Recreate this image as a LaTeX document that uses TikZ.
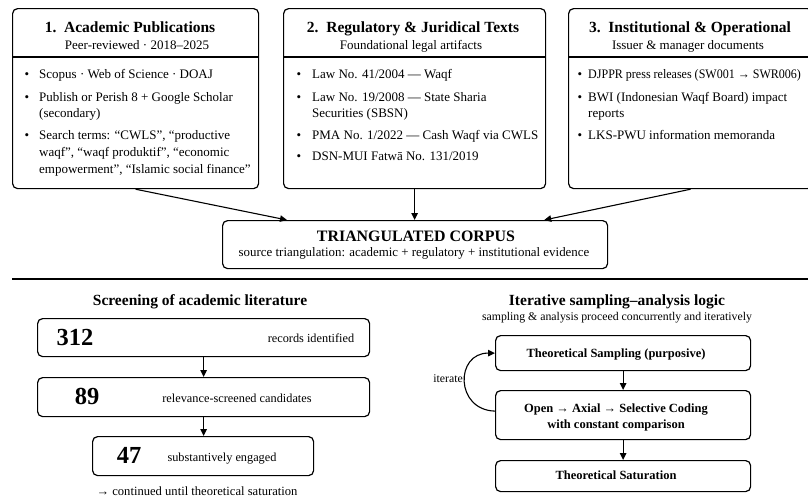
\documentclass[tikz,border=0pt]{standalone}
\usepackage{fontspec}
\setmainfont{Liberation Serif}
\usetikzlibrary{arrows.meta}
\begin{document}
\begin{tikzpicture}[x=1pt,y=-1pt,
  box/.style={draw, line width=1.2pt, rounded corners=5pt, inner sep=0pt},
  arr/.style={line width=1.1pt, -{Stealth[length=7pt,width=6.5pt,inset=0pt]}},
  ttl/.style={font=\fontsize{15.5}{18}\selectfont\bfseries, anchor=base, inner sep=0pt},
  sub/.style={font=\fontsize{13}{16}\selectfont, anchor=base, inner sep=0pt},
  itm/.style={font=\fontsize{13}{16}\selectfont, anchor=base west, inner sep=0pt},
  bul/.style={font=\fontsize{13}{16}\selectfont, anchor=base, inner sep=0pt},
  num/.style={font=\fontsize{24.5}{28}\selectfont\bfseries, anchor=base, inner sep=0pt},
  lab/.style={font=\fontsize{12.3}{15}\selectfont, anchor=base, inner sep=0pt},
  sml/.style={font=\fontsize{11.8}{14}\selectfont, anchor=base, inner sep=0pt},
  bld/.style={font=\fontsize{12.5}{15}\selectfont\bfseries, anchor=base, inner sep=0pt}]
\useasboundingbox (0,0) rectangle (808,499);
\fill[white] (0,0) rectangle (808,499);

% ---- top boxes ----
\node[box, minimum width=246pt, minimum height=180pt, anchor=north west] (b1) at (12,8) {};
\node[box, minimum width=262pt, minimum height=180pt, anchor=north west] (b2) at (283,8) {};
\node[box, minimum width=244pt, minimum height=180pt, anchor=north west] (b3) at (568,8) {};
\draw[line width=1.2pt] (12,57) -- (258,57);
\draw[line width=1.2pt] (283,57) -- (545,57);
\draw[line width=1.2pt] (568,57) -- (812,57);

\node[ttl] (h1) at (130,32) {1.\enspace Academic Publications};
\node[sub] (s1t) at (137,49) {Peer-reviewed · 2018–2025};
\node[ttl] (h2) at (413,32) {2.\enspace Regulatory \& Juridical Texts};
\node[sub] (s2t) at (411,49) {Foundational legal artifacts};
\node[ttl] (h3) at (690,32) {3.\enspace Institutional \& Operational};
\node[sub] (s3t) at (688,49) {Issuer \& manager documents};

% box 1 items
\node[bul] (p11) at (27,78) {•};
\node[itm] (i11) at (39,78) {Scopus · Web of Science · DOAJ};
\node[bul] (p12) at (27,101) {•};
\node[itm] (i12) at (39,101) {Publish or Perish 8 + Google Scholar};
\node[itm] (i12b) at (39,117) {(secondary)};
\node[bul] (p13) at (27,139) {•};
\node[itm] (i13) at (39,139) {Search terms: “CWLS”, “productive};
\node[itm] (i13b) at (39,156) {waqf”, “waqf produktif”, “economic};
\node[itm] (i13c) at (39,173) {empowerment”, “Islamic social finance”};

% box 2 items
\node[bul] (p21) at (299,78) {•};
\node[itm] (i21) at (312,78) {Law No. 41/2004 — Waqf};
\node[bul] (p22) at (299,101) {•};
\node[itm] (i22) at (312,101) {Law No. 19/2008 — State Sharia};
\node[itm] (i22b) at (312,117) {Securities (SBSN)};
\node[bul] (p23) at (299,139) {•};
\node[itm] (i23) at (312,139) {PMA No. 1/2022 — Cash Waqf via CWLS};
\node[bul] (p24) at (299,160) {•};
\node[itm] (i24) at (312,160) {DSN-MUI Fatwā No. 131/2019};

% box 3 items
\node[bul] (p31) at (580,78) {•};
\node[itm] (i31) at (588,78) {\scalebox{0.925}[1]{DJPPR press releases (SW001 → SWR006)}};
\node[bul] (p32) at (580,101) {•};
\node[itm] (i32) at (588,101) {BWI (Indonesian Waqf Board) impact};
\node[itm] (i32b) at (588,117) {reports};
\node[bul] (p33) at (580,139) {•};
\node[itm] (i33) at (588,139) {LKS-PWU information memoranda};

% corpus
\node[box, minimum width=385pt, minimum height=48pt, anchor=north west] (corpus) at (222,220) {};
\node[ttl, font=\fontsize{15.9}{18}\selectfont\bfseries] (ct) at (416,241) {TRIANGULATED CORPUS};
\node[sml, font=\fontsize{12.9}{15}\selectfont] (cs) at (414,256) {source triangulation: academic + regulatory + institutional evidence};

\draw[arr] (b1.south) -- ([xshift=65pt]corpus.north west);
\draw[arr] (b2.south) -- (b2.south |- corpus.north);
\draw[arr] (b3.south) -- ([xshift=-64pt]corpus.north east);

% separator
\draw[line width=1.3pt] (12,279) -- (808,279);

% ---- bottom left ----
\node[ttl] (lt) at (200,305) {Screening of academic literature};
\node[box, minimum width=332pt, minimum height=38pt, anchor=north west] (sc1) at (37,318) {};
\node[box, minimum width=332pt, minimum height=39pt, anchor=north west] (sc2) at (37,377) {};
\node[box, minimum width=221pt, minimum height=39pt, anchor=north west] (sc3) at (92,436) {};
\node[num] (n1) at (75,345) {312};
\node[lab] (l1) at (311,342) {records identified};
\node[num] (n2) at (87,404) {89};
\node[lab] (l2) at (237,402) {relevance-screened candidates};
\node[num] (n3) at (129,463) {47};
\node[lab] (l3) at (222,461) {substantively engaged};
\draw[arr] (sc1.south) -- (sc2.north);
\draw[arr] (sc2.south) -- (sc2.south |- sc3.north);
\node[sml, font=\fontsize{12.6}{15}\selectfont] (fn) at (197,495) {→ continued until theoretical saturation};

% ---- bottom right ----
\node[ttl] (rt) at (617,305) {Iterative sampling–analysis logic};
\node[sml] (rs) at (617,320) {sampling \& analysis proceed concurrently and iteratively};
\node[box, minimum width=255pt, minimum height=35pt, anchor=north west] (r1) at (495,335) {};
\node[box, minimum width=255pt, minimum height=49pt, anchor=north west] (r2) at (495,390) {};
\node[box, minimum width=255pt, minimum height=31pt, anchor=north west] (r3) at (495,460) {};
\node[bld] (rt1) at (616,357) {Theoretical Sampling (purposive)};
\node[bld] (rt2) at (616,412) {Open → Axial → Selective Coding};
\node[bld] (rt2b) at (616,428) {with constant comparison};
\node[bld] (rt3) at (616,479) {Theoretical Saturation};
\draw[arr] (r1.south) -- (r2.north);
\draw[arr] (r2.south) -- (r3.north);
\draw[arr] ([yshift=4pt]r2.west) .. controls (455,410) and (455,353) .. (r1.west);
\node[sml, anchor=base east] (it) at (463,382) {iterate};
\end{tikzpicture}
\end{document}
